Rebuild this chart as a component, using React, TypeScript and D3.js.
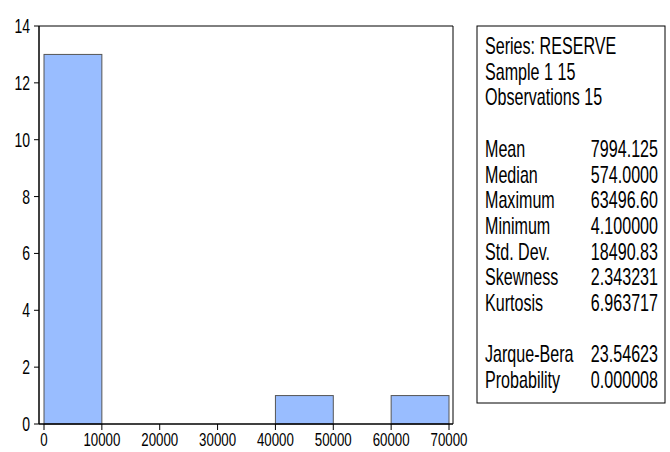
import React from "react";
import * as d3 from "d3";

const binStarts = [0, 10000, 20000, 30000, 40000, 50000, 60000];
const binWidth = 10000;
const counts = [13, 0, 0, 0, 1, 0, 1];
const xTicks = [0, 10000, 20000, 30000, 40000, 50000, 60000, 70000];
const yTicks = [0, 2, 4, 6, 8, 10, 12, 14];
const headerLines = ["Series: RESERVE", "Sample 1 15", "Observations 15"];
const statLabels = ["Mean", "Median", "Maximum", "Minimum", "Std. Dev.", "Skewness", "Kurtosis"];
const statValues = ["7994.125", "574.0000", "63496.60", "4.100000", "18490.83", "2.343231", "6.963717"];
const testLabels = ["Jarque-Bera", "Probability"];
const testValues = ["23.54623", "0.000008"];

const FONT = "'Liberation Sans', Arial, sans-serif";

function NText(props: { x: number; y: number; size: number; sx: number; anchor?: string; children: React.ReactNode }) {
  return (
    <text
      transform={`translate(${props.x},${props.y}) scale(${props.sx},1)`}
      textAnchor={props.anchor || "start"}
      fontFamily={FONT}
      fontSize={props.size}
      fill="#000"
    >
      {props.children}
    </text>
  );
}

export default function App() {
  const W = 670, H = 452;
  const frameL = 39, frameR = 453, frameT = 26, frameB = 424;
  const x = d3.scaleLinear().domain([0, 70000]).range([44, 449]);
  const y = d3.scaleLinear().domain([0, 14]).range([frameB, frameT]);

  const boxL = 477, boxR = 665, boxT = 26, boxB = 403;
  const textL = 485, textR = 658;
  const lh = 25.7;
  const base0 = 54;

  const allRows: { label: string; value?: string; line: number }[] = [];
  headerLines.forEach((t, i) => allRows.push({ label: t, line: i }));
  statLabels.forEach((t, i) => allRows.push({ label: t, value: statValues[i], line: 4 + i }));
  testLabels.forEach((t, i) => allRows.push({ label: t, value: testValues[i], line: 12 + i }));

  return (
    <svg width={W} height={H} style={{ position: "absolute", left: 0, top: 0, background: "#fff" }}>
      {binStarts.map((b, i) =>
        counts[i] > 0 ? (
          <rect
            key={i}
            x={x(b)}
            y={y(counts[i])}
            width={x(b + binWidth) - x(b)}
            height={y(0) - y(counts[i])}
            fill="#99bdff"
            stroke="#555"
            strokeWidth={1}
          />
        ) : null
      )}
      <line x1={frameL} x2={frameR} y1={frameT} y2={frameT} stroke="#000" strokeWidth={1} />
      <line x1={frameR} x2={frameR} y1={frameT} y2={frameB} stroke="#000" strokeWidth={1} />
      <line x1={frameL} x2={frameL} y1={frameT} y2={frameB} stroke="#000" strokeWidth={1.5} />
      <line x1={frameL} x2={frameR} y1={frameB} y2={frameB} stroke="#000" strokeWidth={1.5} />
      {yTicks.map((t) => (
        <g key={"y" + t}>
          <line x1={frameL - 5} x2={frameL} y1={y(t)} y2={y(t)} stroke="#000" />
          <NText x={30} y={y(t) + 7} size={20} sx={0.7} anchor="end">
            {t}
          </NText>
        </g>
      ))}
      {xTicks.map((t) => (
        <g key={"x" + t}>
          <line x1={x(t)} x2={x(t)} y1={frameB} y2={frameB + 6} stroke="#000" />
          <NText x={x(t)} y={446} size={19} sx={0.7} anchor="middle">
            {t}
          </NText>
        </g>
      ))}
      <rect x={boxL} y={boxT} width={boxR - boxL} height={boxB - boxT} fill="#fff" stroke="#000" strokeWidth={1} />
      {allRows.map((r, i) => (
        <g key={"r" + i}>
          <NText x={textL} y={base0 + r.line * lh} size={23} sx={0.7}>
            {r.label}
          </NText>
          {r.value ? (
            <NText x={textR} y={base0 + r.line * lh} size={23} sx={0.7} anchor="end">
              {r.value}
            </NText>
          ) : null}
        </g>
      ))}
    </svg>
  );
}
